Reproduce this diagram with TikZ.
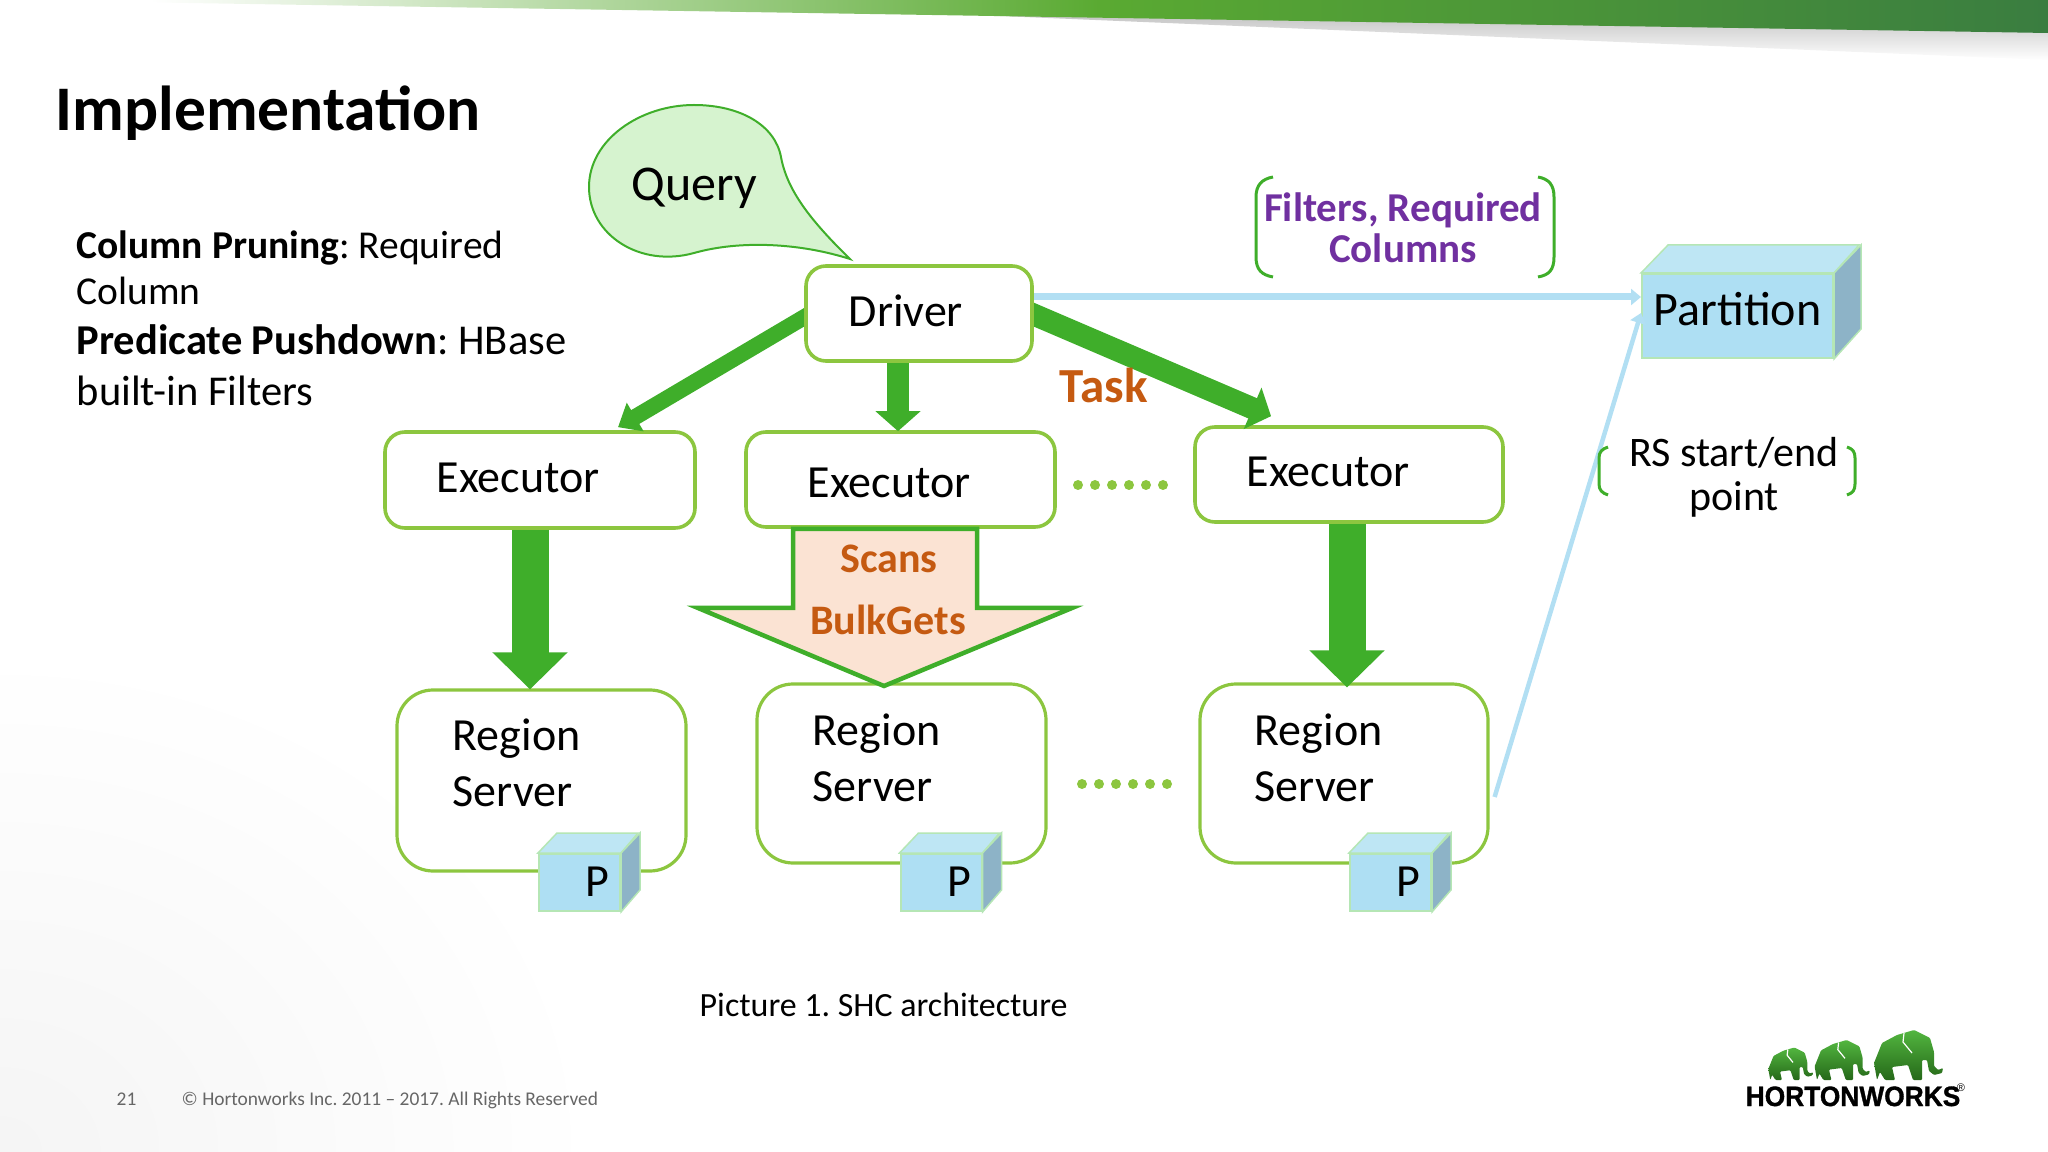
\documentclass[tikz,border=0pt]{standalone}
\usepackage{fontspec}
\setmainfont{Carlito}
\newfontfamily\logofont{Liberation Sans}[BoldFeatures={FakeBold=1.2}]
\usetikzlibrary{arrows.meta,calc,fadings}
\pgfdeclarelayer{over}
\pgfsetlayers{main,over}
\def\px{0.01cm}
% size and line skip, both in image pixels
\newcommand{\pxfont}[2]{\fontsize{\fpeval{#1*0.28453}pt}{\fpeval{#2*0.28453}pt}\selectfont}
\definecolor{hwgreen}{HTML}{3FAE2A}
\definecolor{boxgreen}{HTML}{8CC63F}
\definecolor{cubefront}{HTML}{AEDFF3}
\definecolor{cubetop}{HTML}{BEE6F4}
\definecolor{cubeside}{HTML}{8DB3C7}
\definecolor{cubeline}{HTML}{B5E6B5}
\definecolor{linkblue}{HTML}{B2DFF3}
\definecolor{rust}{HTML}{C55A11}
\definecolor{hwpurple}{HTML}{7030A0}
\definecolor{bubble}{HTML}{D6F3CF}
\definecolor{peach}{HTML}{FBE3D3}
\definecolor{bandmid}{HTML}{5AAA32}
\definecolor{bandend}{HTML}{3A7D40}
\tikzset{
  box/.style={draw=boxgreen, fill=white, line width=3.6*\px, rounded corners=20*\px, inner sep=0pt},
  server/.style={box, line width=3.2*\px, rounded corners=36*\px},
  txt/.style={inner sep=0pt, anchor=base west, align=left, font=\pxfont{46}{55}},
  mid/.style={txt, anchor=base, align=center},
  task/.style={draw=hwgreen, line width=#1*\px, -{Triangle[length=20*\px, width=#1*2*\px]}},
  drop/.style={draw=hwgreen, line width=37*\px, -{Triangle[length=37*\px, width=73*\px]}},
  link/.style={draw=linkblue, line width=#1*\px, -{Triangle[length=10*\px, width=16*\px]}},
  paren/.style={draw=hwgreen, line width=3*\px},
  dots/.style={draw=boxgreen, line width=10*\px, line cap=round, dash pattern=on 0pt off 17*\px},
  front/.style={fill=cubefront, draw=cubeline, line width=2*\px, inner sep=0pt},
  top/.style={fill=cubetop, draw=cubeline, line width=1.5*\px},
  side/.style={fill=cubeside, draw=cubeline, line width=1.5*\px},
  pics/eleph/.style={code={
    \shade[top color=hwgreen!90!white, bottom color=hwgreen!60!black, rounded corners=1*\px]
      (5,0) -- (2,-17) -- (10,-37) -- (25,-45) -- (42,-50) -- (58,-42) -- (62,-28) -- (62,-14)
      -- (66,-10) -- (71,-12) -- (70,-7) -- (62,-5) -- (57,-9) -- (55,-20) -- (50,-20) -- (50,0)
      -- (41,0) -- (36,-15) -- (20,-13) -- (23,0) -- (13,0) -- (8,-8) -- cycle;
    \draw[white, line width=1.2*\px] (32,-47) -- (31,-38) -- (40,-27);
  }}
}
\begin{document}
\frenchspacing
\begin{tikzpicture}[x=0.01cm, y=-0.01cm]
\useasboundingbox (0,0) rectangle (2048,1152);

% slide background
\begin{scope}
  \clip (0,0) rectangle (2048,1152);
  \shade[inner color=black!4, outer color=white] (-600,650) rectangle (600,1650);
  \fill[black!25, path fading=south] (1000,10) -- (2048,10) -- (2048,60) -- (1000,16) -- cycle;
  \shade[left color=white, right color=bandend, middle color=bandmid]
    (150,0) -- (2048,0) -- (2048,33) -- (150,2.4) -- cycle;
\end{scope}

% headings
\node[txt, font=\bfseries\pxfont{63.5}{70}] (title) at (55,131) {Implementation};
\node[txt, font=\pxfont{39.5}{46}] (notesA) at (76,305) {\textbf{Column Pruning}: Required\\Column};
\node[txt, font=\pxfont{42.5}{51}] (notesB) at (76,406) {\textbf{Predicate Pushdown}: HBase\\built-in Filters};

% query bubble
\draw[fill=bubble, draw=hwgreen, line width=2*\px]
  (850,259) .. controls (800,243) and (740,240) .. (694,253)
  .. controls (640,268) and (589,235) .. (589,187)
  .. controls (589,140) and (640,105) .. (694,105)
  .. controls (740,105) and (775,125) .. (781,157)
  .. controls (787,190) and (810,220) .. (850,259) -- cycle;
\node[txt, font=\pxfont{50}{55}] (query) at (631,201) {Query};

% boxes
\node[box, minimum width=310*\px, minimum height=96*\px] (ex1) at (540,480) {};
\node[box, minimum width=309*\px, minimum height=95*\px] (ex2) at (900.5,479.5) {};
\node[box, minimum width=308*\px, minimum height=95*\px] (ex3) at (1349,474.5) {};
\node[server, minimum width=289*\px, minimum height=181*\px] (rs1) at (541.5,780.5) {};
\node[server, minimum width=289*\px, minimum height=179*\px] (rs2) at (901.5,773.5) {};
\node[server, minimum width=288*\px, minimum height=179*\px] (rs3) at (1344,773.5) {};

% partition
\node[front, minimum width=191*\px, minimum height=84*\px] (part) at (1737.5,316) {};
\draw[top] (part.north west) -- ++(27,-28) -- ++(191,0) -- (part.north east) -- cycle;
\draw[side] (part.north east) -- ++(27,-28) -- ++(0,84) -- (part.south east) -- cycle;
\node[txt, font=\pxfont{48}{55}] (partT) at (1653,326) {Partition};

% driver sits above the ends of its arrows
\begin{pgfonlayer}{over}
\node[box, minimum width=226*\px, minimum height=95*\px] (driver) at (919,313.5) {};
\node[txt] (driverT) at (848,327) {Driver};
\end{pgfonlayer}

% links
\draw[link=7] ($(driver.east)+(0,-16.5)$) -- ($(part.west)+(0,-19)$);
\draw[link=4.5] ($(rs3.east)+(5,23.5)$) -- ($(part.west)+(0,-3)$);
\draw[task=16] ($(driver.west)+(8,-1)$) -- ($(ex1.north)+(78,-3)$);
\draw[task=22] ($(driver.south)+(-21,-5)$) -- ($(ex2.north)+(-2.5,1)$);
\draw[task=22] ($(driver.east)+(-12,-4)$) -- ($(ex3.north)+(-78,-9)$);
\draw[drop] ($(ex1.south)+(-10,0)$) -- ($(rs1.north)+(-11.5,1)$);
\draw[drop] ($(ex3.south)+(-2,0)$) -- ($(rs3.north)+(3,5)$);

% texts in the boxes
\node[txt] (ex1T) at (436,492) {Executor};
\node[txt] (ex2T) at (807,498) {Executor};
\node[txt] (ex3T) at (1246,487) {Executor};

% scans block arrow
\draw[fill=peach, draw=hwgreen, line width=4.5*\px, miter limit=20]
  (793,529) -- (977,529) -- (977,608) -- (1072,608) -- (884,686) -- (698,608) -- (793,608) -- cycle;
\node[mid, text=rust, font=\bfseries\pxfont{42}{50}] (scans) at (889,573) {Scans};
\node[mid, text=rust, font=\bfseries\pxfont{42}{50}] (bulk) at (888,634) {BulkGets};
\node[txt, text=rust, font=\bfseries\pxfont{49}{50}] (taskT) at (1059,403) {Task};

% dots
\coordinate (d1a) at (1078,485); \coordinate (d1b) at (1164,485);
\coordinate (d2a) at (1082,784); \coordinate (d2b) at (1168,784);
\draw[dots] (d1a) -- (d1b);
\draw[dots] (d2a) -- (d2b);

% region server texts
\node[txt] (rs1T) at (452,806) {Region\\Server};
\node[txt] (rs2T) at (812,801) {Region\\Server};
\node[txt] (rs3T) at (1254,801) {Region\\Server};

% small partition cubes
\foreach \n/\x in {1/579.5, 2/941, 3/1390.5}{
  \node[front, minimum width=81*\px, minimum height=57*\px] (p\n) at (\x,882.5) {};
  \draw[top] (p\n.north west) -- ++(19,-20) -- ++(81,0) -- (p\n.north east) -- cycle;
  \draw[side] (p\n.north east) -- ++(19,-20) -- ++(0,57) -- (p\n.south east) -- cycle;
  \node[txt] (p\n T) at ($(p\n.west)+(47,13.5)$) {P};
}

% purple note and brackets
\node[mid, text=hwpurple, font=\bfseries\pxfont{41}{41}] (filters) at (1403,263) {Filters, Required\\Columns};
\draw[paren] (1273,177) .. controls (1262,179) and (1256,185) .. (1256,197) -- (1256,257)
  .. controls (1256,270) and (1262,275) .. (1273,277);
\draw[paren] (1538,177) .. controls (1549,179) and (1554,185) .. (1554,197) -- (1554,257)
  .. controls (1554,270) and (1549,275) .. (1538,277);
\node[mid, font=\pxfont{42}{44}] (rsT) at (1734,511) {RS start/end\\point};
\draw[paren] (1608,447) .. controls (1602,449) and (1599,452) .. (1599,458) -- (1599,484)
  .. controls (1599,490) and (1602,493) .. (1608,495);
\draw[paren] (1847,447) .. controls (1853,449) and (1855,452) .. (1855,458) -- (1855,484)
  .. controls (1855,490) and (1853,493) .. (1847,495);

% caption and footer
\node[txt, font=\pxfont{33.9}{40}] (caption) at (699,1016) {Picture 1. SHC architecture};
\node[txt, text=black!60, font=\pxfont{19.4}{22}] (page) at (116,1105) {21};
\node[txt, text=black!60, font=\pxfont{19.4}{22}] (copy) at (181,1105) {\textcopyright{} Hortonworks Inc. 2011 -- 2017. All Rights Reserved};

% logo
\pic[scale=1] at (1872,1080) {eleph};
\pic[scale=.8] at (1813,1080) {eleph};
\pic[scale=.65] at (1767,1080) {eleph};
\node[txt, font=\logofont\bfseries\pxfont{28}{30}] (logo) at (1745,1106) {\scalebox{0.94}[1]{HORTONWORKS}};
\node[inner sep=0pt, font=\logofont\pxfont{11}{12}] (reg) at (1961,1088) {\textregistered};
\end{tikzpicture}
\end{document}
